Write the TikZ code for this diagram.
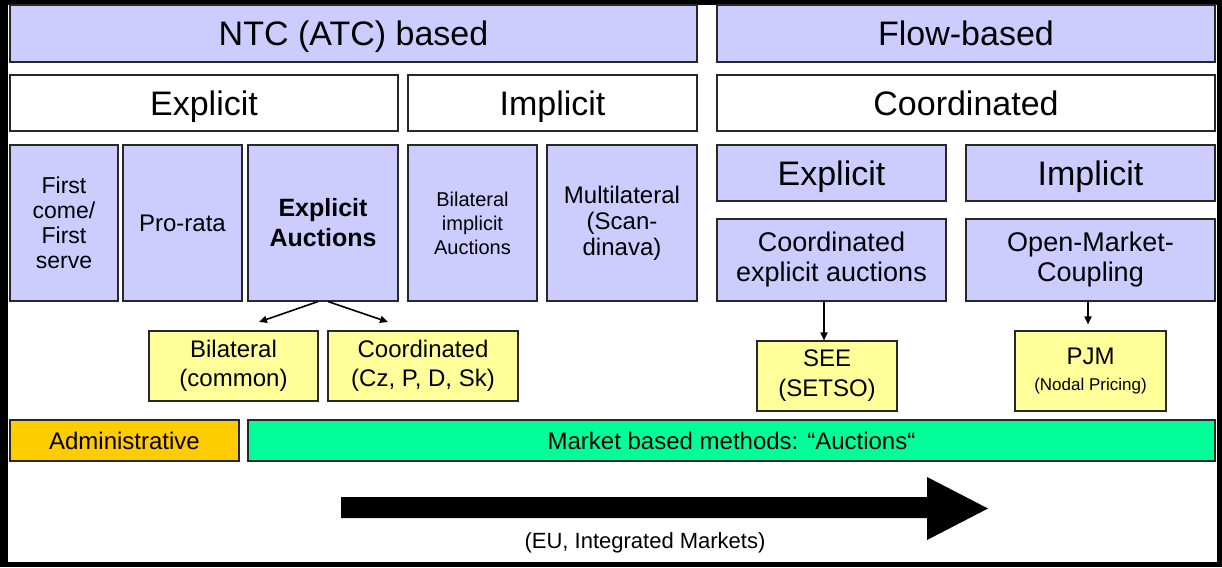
\documentclass[tikz,border=0pt]{standalone}
\usepackage{fontspec}
\setmainfont{Liberation Sans}
\usetikzlibrary{arrows.meta}
\definecolor{lav}{RGB}{204,204,255}
\definecolor{yel}{RGB}{255,255,153}
\definecolor{orng}{RGB}{255,204,0}
\definecolor{grn}{RGB}{0,255,153}
\definecolor{edge}{RGB}{40,40,40}
\newcommand{\fs}[2]{\fontsize{#1}{#2}\selectfont}
\begin{document}
\begin{tikzpicture}[x=1pt,y=-1pt,
  cell/.style={draw=edge,line width=1.1pt,inner sep=0pt,align=center},
  lavbox/.style={cell,fill=lav},
  whitebox/.style={cell,fill=white},
  yelbox/.style={cell,fill=yel},
  head/.style={font=\fs{34}{40},text height=24.5pt,text depth=0pt},
  conn/.style={line width=1.6pt,-{Triangle[length=8pt,width=7pt]}}]
\useasboundingbox (0,0) rectangle (1222,567);
\fill[black] (0,0) rectangle (1222,567);
\fill[white] (8,5) rectangle (1217,562);
% row 1
\node[lavbox,head,minimum width=687pt,minimum height=57pt] (ntc) at (353.5,33.5) {NTC (ATC) based};
\node[lavbox,head,minimum width=498pt,minimum height=57pt] (flow) at (966,33.5) {Flow-based};
% row 2
\node[whitebox,head,minimum width=388pt,minimum height=56pt] (expl) at (204,103) {Explicit};
\node[whitebox,head,minimum width=289pt,minimum height=56pt] (impl) at (552.5,103) {Implicit};
\node[whitebox,head,minimum width=498pt,minimum height=56pt] (coord) at (966,103) {Coordinated};
% row 3
\node[lavbox,font=\fs{23}{25},minimum width=108pt,minimum height=156pt] (fcfs) at (64,223) {First\\come/\\First\\serve};
\node[lavbox,font=\fs{24}{27},minimum width=119pt,minimum height=156pt] (pro) at (182.5,223) {Pro-rata};
\node[lavbox,font=\fs{25}{30}\bfseries,minimum width=150pt,minimum height=156pt] (ea) at (323,223) {Explicit\\Auctions};
\node[lavbox,font=\fs{20}{24},minimum width=129pt,minimum height=156pt] (bia) at (472.5,223) {Bilateral\\implicit\\Auctions};
\node[lavbox,font=\fs{24}{26},minimum width=150pt,minimum height=156pt] (mul) at (622,223) {Multilateral\\(Scan-\\dinava)};
\node[lavbox,head,minimum width=229pt,minimum height=56pt] (fexp) at (831.5,173) {Explicit};
\node[lavbox,head,minimum width=249pt,minimum height=56pt] (fimp) at (1090.5,173) {Implicit};
\node[lavbox,font=\fs{27}{30},minimum width=229pt,minimum height=82pt] (cea) at (831.5,260) {Coordinated\\explicit auctions};
\node[lavbox,font=\fs{27}{30},minimum width=249pt,minimum height=82pt] (omc) at (1090.5,260) {Open-Market-\\Coupling};
% yellow
\node[yelbox,font=\fs{24}{29},minimum width=169pt,minimum height=70pt] (bil) at (233.5,366) {Bilateral\\(common)};
\node[yelbox,font=\fs{24}{29},minimum width=190pt,minimum height=70pt] (coo) at (423,366) {Coordinated\\(Cz, P, D, Sk)};
\node[yelbox,font=\fs{24}{30},minimum width=140pt,minimum height=70pt] (see) at (827,376) {SEE\\(SETSO)};
\node[yelbox,font=\fs{24}{26},minimum width=151pt,minimum height=80pt] (pjm) at (1090.5,371) {PJM\\{\fs{17}{26}(Nodal Pricing)}};
% bars
\node[cell,fill=orng,font=\fs{24}{28},minimum width=229pt,minimum height=41pt] (adm) at (124.5,440.5) {Administrative};
\node[cell,fill=grn,font=\fs{24}{28},minimum width=967pt,minimum height=41pt] (mkt) at (731.5,440.5) {Market based methods: “Auctions“};
% connectors
\coordinate (eaL) at (259,322);
\coordinate (eaR) at (388,322);
\draw[conn] (ea.south -| 318,0) -- (eaL);
\draw[conn] (ea.south -| 328,0) -- (eaR);
\draw[conn] (cea.south -| 824,0) -- (see.north -| 824,0);
\draw[conn,shorten >=6pt] (omc.south -| 1088,0) -- (pjm.north -| 1088,0);
% big arrow
\fill[black] (341,497) -- (927,497) -- (927,477) -- (988,508.5) -- (927,540) -- (927,518) -- (341,518) -- cycle;
\node[font=\fs{22}{26},anchor=base] (eu) at (645,548) {(EU, Integrated Markets)};
\end{tikzpicture}
\end{document}
